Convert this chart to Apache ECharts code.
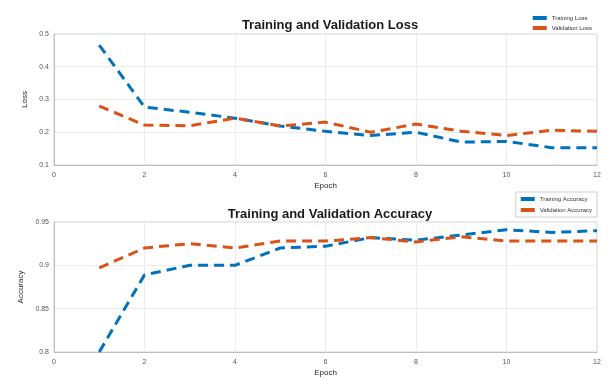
<!DOCTYPE html>
<html>
<head>
<meta charset="utf-8">
<script src="https://cdn.jsdelivr.net/npm/echarts@6/dist/echarts.min.js"></script>
<style>
  html, body { margin: 0; padding: 0; background: #fff; }
  #chart { width: 608px; height: 379px; }
</style>
</head>
<body>
<div id="chart"></div>
<script>
// epochs 1..12
var epochs = [1, 2, 3, 4, 5, 6, 7, 8, 9, 10, 11, 12];
var trainLoss = [0.466, 0.277, 0.261, 0.243, 0.219, 0.203, 0.19, 0.2, 0.17, 0.172, 0.153, 0.153];
var valLoss = [0.28, 0.222, 0.22, 0.243, 0.219, 0.231, 0.2, 0.225, 0.203, 0.19, 0.206, 0.203];
var trainAcc = [0.8, 0.889, 0.9, 0.9, 0.92, 0.922, 0.932, 0.929, 0.935, 0.941, 0.938, 0.94];
var valAcc = [0.897, 0.92, 0.925, 0.92, 0.928, 0.928, 0.932, 0.927, 0.933, 0.928, 0.928, 0.928];

var blue = '#0072BD';
var orange = '#D95319';
var font = 'Liberation Sans, Arial, sans-serif';

function pairs(ys) {
  return epochs.map(function (e, i) { return [e, ys[i]]; });
}

function xAxisCfg(idx) {
  return {
    gridIndex: idx, type: 'value', min: 0, max: 12, interval: 2,
    name: 'Epoch', nameLocation: 'middle', nameGap: 17,
    nameTextStyle: { fontSize: 8, fontFamily: font, color: '#262626' },
    axisLine: { lineStyle: { color: '#bdbdbd' } },
    axisTick: { show: false },
    axisLabel: { fontSize: 7, fontFamily: font, color: '#555', margin: 7 },
    splitLine: { show: true, lineStyle: { color: '#ececec', width: 1 } }
  };
}

function lineSeries(name, idx, ys, color) {
  return {
    name: name, type: 'line', xAxisIndex: idx, yAxisIndex: idx,
    data: pairs(ys), symbol: 'none', smooth: false,
    lineStyle: { color: color, width: 3, type: [10, 6] },
    itemStyle: { color: color }
  };
}

var myChart = echarts.init(document.getElementById('chart'));
var option = {
  animation: false,
  backgroundColor: '#fff',
  title: [
    { text: 'Training and Validation Loss', left: 325, top: 14, textAlign: 'center',
      textStyle: { fontSize: 13, fontWeight: 'bold', fontFamily: font, color: '#1a1a1a' } },
    { text: 'Training and Validation Accuracy', left: 325, top: 203, textAlign: 'center',
      textStyle: { fontSize: 13, fontWeight: 'bold', fontFamily: font, color: '#1a1a1a' } }
  ],
  legend: [
    { data: ['Training Loss', 'Validation Loss'], orient: 'vertical', right: 12, top: 13,
      itemWidth: 14, itemHeight: 4, itemGap: 4,
      icon: 'rect', textStyle: { fontSize: 6, fontFamily: font, color: '#333' },
      padding: [2, 4] },
    { data: ['Training Accuracy', 'Validation Accuracy'], orient: 'vertical', right: 11, top: 192,
      itemWidth: 14, itemHeight: 4, itemGap: 5,
      icon: 'rect', textStyle: { fontSize: 6, fontFamily: font, color: '#333' },
      borderColor: '#cfcfcf', borderWidth: 1, padding: [4, 5] }
  ],
  grid: [
    { left: 54, right: 11, top: 34, height: 131, show: true, borderColor: '#d0d0d0', borderWidth: 1 },
    { left: 54, right: 11, top: 222, height: 130, show: true, borderColor: '#d0d0d0', borderWidth: 1 }
  ],
  xAxis: [xAxisCfg(0), xAxisCfg(1)],
  yAxis: [
    { gridIndex: 0, type: 'value', min: 0.1, max: 0.5, interval: 0.1,
      name: 'Loss', nameLocation: 'middle', nameGap: 20, nameRotate: 90,
      nameTextStyle: { fontSize: 8, fontFamily: font, color: '#262626' },
      axisLine: { show: true, lineStyle: { color: '#bdbdbd' } }, axisTick: { show: false },
      axisLabel: { fontSize: 7, fontFamily: font, color: '#555', margin: 5 },
      splitLine: { show: true, lineStyle: { color: '#ececec' } } },
    { gridIndex: 1, type: 'value', min: 0.8, max: 0.95, interval: 0.05,
      name: 'Accuracy', nameLocation: 'middle', nameGap: 26, nameRotate: 90,
      nameTextStyle: { fontSize: 8, fontFamily: font, color: '#262626' },
      axisLine: { show: true, lineStyle: { color: '#bdbdbd' } }, axisTick: { show: false },
      axisLabel: { fontSize: 7, fontFamily: font, color: '#555', margin: 5 },
      splitLine: { show: true, lineStyle: { color: '#ececec' } } }
  ],
  series: [
    lineSeries('Training Loss', 0, trainLoss, blue),
    lineSeries('Validation Loss', 0, valLoss, orange),
    lineSeries('Training Accuracy', 1, trainAcc, blue),
    lineSeries('Validation Accuracy', 1, valAcc, orange)
  ]
};
myChart.setOption(option);
window.addEventListener('resize', function () { myChart.resize(); });
</script>
</body>
</html>
